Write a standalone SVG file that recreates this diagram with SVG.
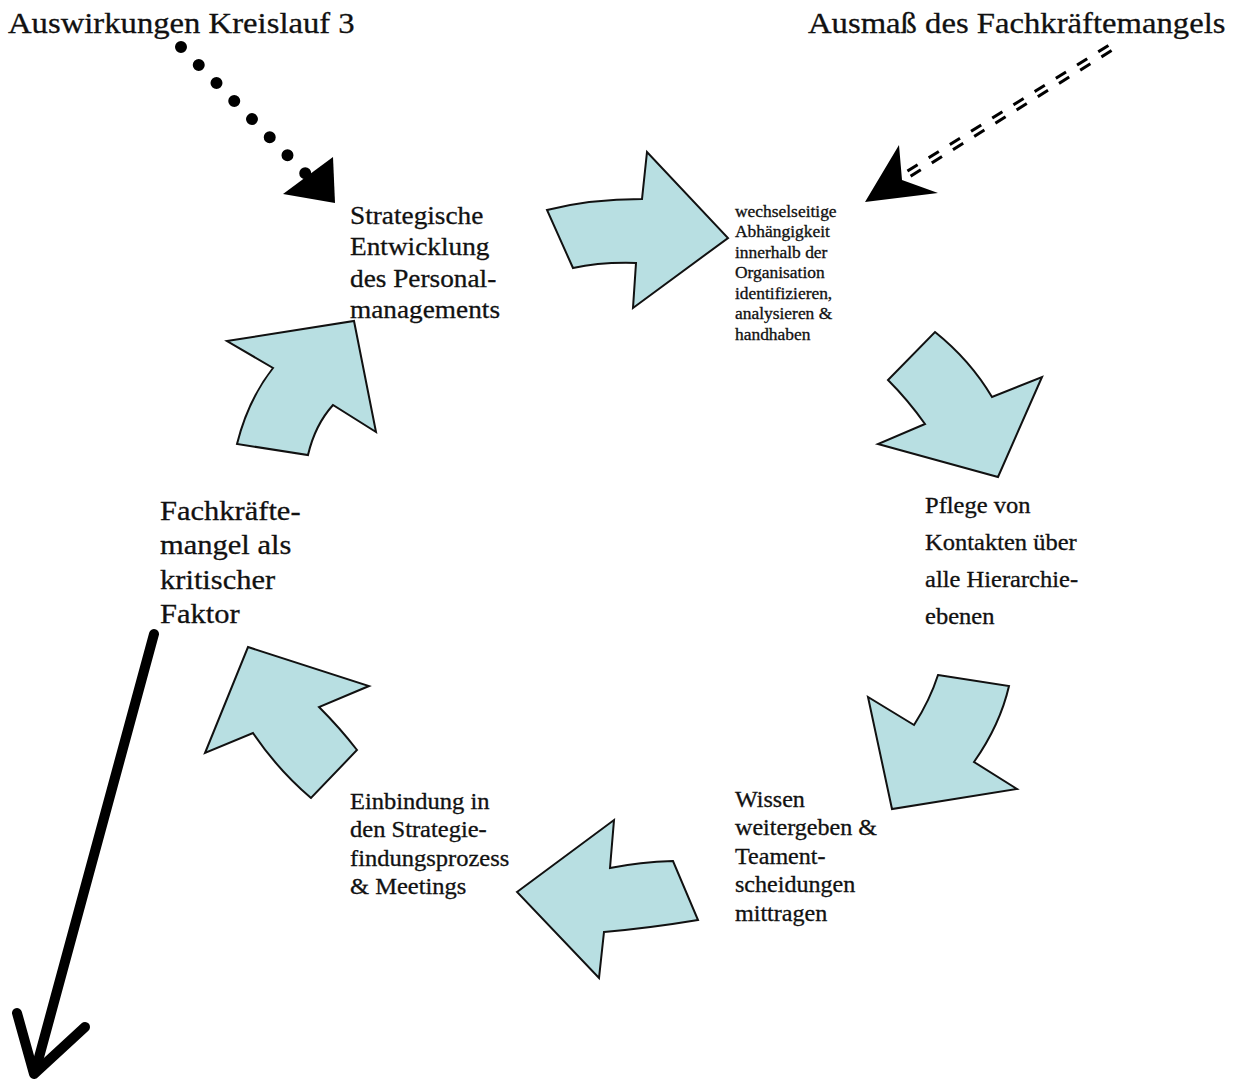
<svg xmlns="http://www.w3.org/2000/svg" width="1235" height="1084" viewBox="0 0 1235 1084">
<style>
  .t { font-family: "Liberation Serif", "Times New Roman", serif; fill: #111; stroke: #111; stroke-width: 0.3; }
  .title { font-size: 30px; }
  .big { font-size: 28px; }
  .mid { font-size: 26px; }
  .node { font-size: 22.5px; }
  .small { font-size: 16px; }
  .flow { fill: #b8dfe2; stroke: #111; stroke-width: 2; stroke-linejoin: miter; }
</style>
<rect width="1235" height="1084" fill="#ffffff"/>

<g id="node-auswirkungen">
  <text class="t title" transform="translate(8,33) scale(1.09,1)">Auswirkungen Kreislauf 3</text>
</g>
<g id="node-ausmass">
  <text class="t title" transform="translate(808,33) scale(1.09,1)">Ausmaß des Fachkräftemangels</text>
</g>
<g id="node-strategische">
  <text class="t mid" transform="translate(350,224) scale(1.05,1)">
    <tspan x="0" dy="0">Strategische</tspan>
    <tspan x="0" dy="31.5">Entwicklung</tspan>
    <tspan x="0" dy="31.5">des Personal-</tspan>
    <tspan x="0" dy="31.5">managements</tspan>
  </text>
</g>
<g id="node-wechselseitige">
  <text class="t small" transform="translate(735,217) scale(1.09,1)">
    <tspan x="0" dy="0">wechselseitige</tspan>
    <tspan x="0" dy="20.5">Abhängigkeit</tspan>
    <tspan x="0" dy="20.5">innerhalb der</tspan>
    <tspan x="0" dy="20.5">Organisation</tspan>
    <tspan x="0" dy="20.5">identifizieren,</tspan>
    <tspan x="0" dy="20.5">analysieren &amp;</tspan>
    <tspan x="0" dy="20.5">handhaben</tspan>
  </text>
</g>
<g id="node-pflege">
  <text class="t node" transform="translate(925,513) scale(1.09,1)">
    <tspan x="0" dy="0">Pflege von</tspan>
    <tspan x="0" dy="37">Kontakten über</tspan>
    <tspan x="0" dy="37">alle Hierarchie-</tspan>
    <tspan x="0" dy="37">ebenen</tspan>
  </text>
</g>
<g id="node-wissen">
  <text class="t node" transform="translate(735,807) scale(1.07,1)">
    <tspan x="0" dy="0">Wissen</tspan>
    <tspan x="0" dy="28.5">weitergeben &amp;</tspan>
    <tspan x="0" dy="28.5">Teament-</tspan>
    <tspan x="0" dy="28.5">scheidungen</tspan>
    <tspan x="0" dy="28.5">mittragen</tspan>
  </text>
</g>
<g id="node-einbindung">
  <text class="t node" transform="translate(350,809) scale(1.09,1)">
    <tspan x="0" dy="0">Einbindung in</tspan>
    <tspan x="0" dy="28.3">den Strategie-</tspan>
    <tspan x="0" dy="28.3">findungsprozess</tspan>
    <tspan x="0" dy="28.3">&amp; Meetings</tspan>
  </text>
</g>
<g id="node-fachkraefte">
  <text class="t big" transform="translate(160,520) scale(1.09,1)">
    <tspan x="0" dy="0">Fachkräfte-</tspan>
    <tspan x="0" dy="34.3">mangel als</tspan>
    <tspan x="0" dy="34.3">kritischer</tspan>
    <tspan x="0" dy="34.3">Faktor</tspan>
  </text>
</g>

<g id="connectors">
  <!-- cycle arrows -->
  <path class="flow" d="M547,210 Q590,199 642,199 L647,152 L728,238 L633,308 L636,263 Q600,262 573,268 Z"/>
  <path class="flow" d="M935,332 Q970,360 992,397 L1042,377 L998,477 L878,444 L925,424 Q908,400 888,380 Z"/>
  <path class="flow" d="M938,675 L1009,686 Q1000,725 974,762 L1017,789 L892,809 L868,697 L914,725 Q930,700 938,675 Z"/>
  <path class="flow" d="M517,892 L614,820 L610,868 Q640,862 673,861 L698,920 Q650,928 604,932 L599,978 Z"/>
  <path class="flow" d="M248,647 L369,686 L319,707 Q340,728 357,750 L311,798 Q278,770 253,733 L205,753 Z"/>
  <path class="flow" d="M227,341 L354,321 L376,432 L333,405 Q315,425 308,455 L237,444 Q248,400 273,368 Z"/>

  <!-- dotted arrow from Auswirkungen Kreislauf 3 -->
  <line x1="181" y1="47" x2="306" y2="174" stroke="#000" stroke-width="12" stroke-linecap="round" stroke-dasharray="0 25.3"/>
  <polygon points="333,157 335,203 283,194" fill="#000"/>

  <!-- double dashed arrow from Ausmaß des Fachkräftemangels -->
  <line x1="1110" y1="48" x2="902" y2="178" stroke="#000" stroke-width="9" stroke-dasharray="12 13"/>
  <line x1="1112" y1="46.7" x2="900" y2="179.3" stroke="#fff" stroke-width="3"/>
  <polygon points="865,202 899,145 902,180 938,193" fill="#000"/>

  <!-- solid arrow out of Fachkräftemangel -->
  <line x1="154" y1="634" x2="35" y2="1072" stroke="#000" stroke-width="10" stroke-linecap="round"/>
  <polyline points="17,1013 34,1074 85,1027" fill="none" stroke="#000" stroke-width="10" stroke-linecap="round" stroke-linejoin="round"/>
</g>
</svg>
